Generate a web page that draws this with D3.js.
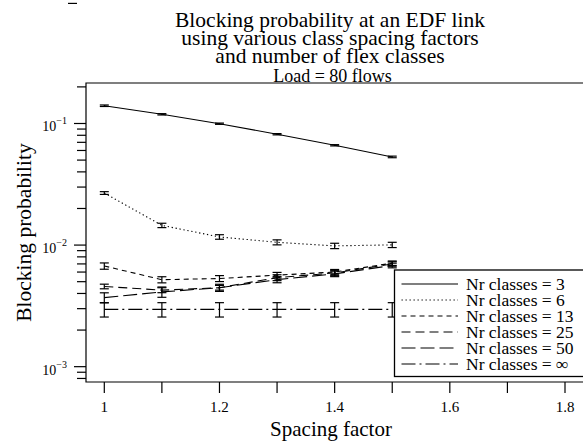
<!DOCTYPE html>
<html><head><meta charset="utf-8">
<script src="https://cdn.jsdelivr.net/npm/d3@7"></script>
<style>body{margin:0;background:#fff}svg{display:block}</style>
</head><body><svg id="c" width="583" height="441"></svg>
<script>
const spacing = [1, 1.1, 1.2, 1.3, 1.4, 1.5];
const labels = ["Nr classes = 3","Nr classes = 6","Nr classes = 13","Nr classes = 25","Nr classes = 50","Nr classes = \u221e"];
const v3   = [0.140, 0.119, 0.0996, 0.0816, 0.0662, 0.0531];
const e3   = [0.0020, 0.0015, 0.0012, 0.0010, 0.0008, 0.0008];
const v6   = [0.0268, 0.01452, 0.01167, 0.01054, 0.00985, 0.01004];
const e6   = [0.0007, 0.0006, 0.0005, 0.0005, 0.0005, 0.0005];
const v13  = [0.00673, 0.00519, 0.00531, 0.00566, 0.0060, 0.0071];
const e13  = [0.0004, 0.0003, 0.0003, 0.0003, 0.0003, 0.0003];
const v25  = [0.00457, 0.00426, 0.00446, 0.0054, 0.0059, 0.0070];
const e25  = [0.0002, 0.0002, 0.0002, 0.0003, 0.0003, 0.0003];
const v50  = [0.00370, 0.00412, 0.00446, 0.0052, 0.0058, 0.0068];
const e50  = [0.00035, 0.0004, 0.0003, 0.0003, 0.0003, 0.0003];
const vInf = [0.00296, 0.00296, 0.00296, 0.00296, 0.00296, 0.00296];
const eInf = [0.0004, 0.0004, 0.0004, 0.0004, 0.0004, 0.0004];
const xTicks = [1, 1.1, 1.2, 1.3, 1.4, 1.5, 1.6, 1.7, 1.8];
const xTickLabels = ["1", "", "1.2", "", "1.4", "", "1.6", "", "1.8"];
const yMajor = [1e-3, 1e-2, 1e-1];
const yMajorExp = ["\u22123", "\u22122", "\u22121"];
const titleLines = ["Blocking probability at an EDF link", "using various class spacing factors", "and number of flex classes"];
const subTitle = "Load = 80 flows";

const series = [
  {v: v3, e: e3, dash: null},
  {v: v6, e: e6, dash: "1.3,2.7"},
  {v: v13, e: e13, dash: "5,4"},
  {v: v25, e: e25, dash: "9,5"},
  {v: v50, e: e50, dash: "14,5"},
  {v: vInf, e: eInf, dash: "14,4,2,4"}
];

const FONT = "'Liberation Serif', 'Times New Roman', Times, 'DejaVu Serif', serif";
const L = 86, T = 83, R = 583, B = 382;
const svg = d3.select("#c").attr("font-family", FONT);
const x = d3.scaleLinear().domain([1, 1.8]).range([104.3, 565]);
const y = d3.scaleLog().domain([7.48e-4, 0.2153]).range([B, T]);

// frame
svg.append("path").attr("d", `M${R+5},${T}H${L}V${B}H${R+5}`).attr("fill","none").attr("stroke","#000").attr("stroke-width",1.2);

// x axis
const xg = svg.append("g");
xTicks.forEach((t,i)=>{
  xg.append("line").attr("x1",x(t)).attr("x2",x(t)).attr("y1",B).attr("y2",B+11).attr("stroke","#000").attr("stroke-width",1.2);
  if (xTickLabels[i]) xg.append("text").attr("x",x(t)).attr("y",411.5).attr("text-anchor","middle").attr("font-size",15).text(xTickLabels[i]);
});

// y axis ticks
const yg = svg.append("g");
const ylo = y.domain()[0], yhi = y.domain()[1];
for (let d = -4; d <= -1; d++) {
  for (let m = 1; m <= 9; m++) {
    const val = m * Math.pow(10, d);
    if (val < ylo || val > yhi) continue;
    const len = m === 1 ? 12 : 9;
    yg.append("line").attr("x1",L-len).attr("x2",L).attr("y1",y(val)).attr("y2",y(val)).attr("stroke","#000").attr("stroke-width",1.2);
  }
}
// stray tick at 10^0 (drawn above the plot in the original)
yg.append("line").attr("x1",L-18).attr("x2",L-9).attr("y1",y(1)+1.5).attr("y2",y(1)+1.5).attr("stroke","#000").attr("stroke-width",1.2);
yMajor.forEach((t,i)=>{
  const tx = yg.append("text").attr("x",67).attr("y",y(t)+8).attr("text-anchor","end").attr("font-size",14);
  tx.append("tspan").text("10");
  tx.append("tspan").attr("dy",-7).attr("font-size",10).text(yMajorExp[i]);
});

// lines
const line = d3.line().x((d,i)=>x(spacing[i])).y(d=>y(d));
series.forEach(s=>{
  svg.append("path").attr("d", line(s.v)).attr("fill","none").attr("stroke","#000")
    .attr("stroke-width", 1.1).attr("stroke-dasharray", s.dash);
});
// error bars
series.forEach(s=>{
  s.v.forEach((v,i)=>{
    const cx = x(spacing[i]), y1 = y(v - s.e[i]), y2 = y(v + s.e[i]);
    const g = svg.append("g").attr("stroke","#000").attr("stroke-width",1.2);
    g.append("line").attr("x1",cx).attr("x2",cx).attr("y1",y1).attr("y2",y2);
    g.append("line").attr("x1",cx-4.5).attr("x2",cx+4.5).attr("y1",y1).attr("y2",y1);
    g.append("line").attr("x1",cx-4.5).attr("x2",cx+4.5).attr("y1",y2).attr("y2",y2);
  });
});

// legend
const lg = svg.append("g");
lg.append("rect").attr("x",394.5).attr("y",270).attr("width",200).attr("height",106.5)
  .attr("fill","#fff").attr("stroke","#000").attr("stroke-width",1.3);
labels.forEach((lab,i)=>{
  const ry = 284 + i*16;
  lg.append("line").attr("x1",401.5).attr("x2",458).attr("y1",ry).attr("y2",ry)
    .attr("stroke","#000").attr("stroke-width",1.1).attr("stroke-dasharray",series[i].dash);
  lg.append("text").attr("x",466).attr("y",ry+5.5).attr("font-size",17.5).text(lab);
});

// titles
titleLines.forEach((t,i)=>{
  svg.append("text").attr("x",330).attr("y",26.7 + i*18).attr("text-anchor","middle").attr("font-size",21.5).text(t);
});
svg.append("text").attr("x",332.5).attr("y",81.7).attr("text-anchor","middle").attr("font-size",18).text(subTitle);
svg.append("text").attr("x",331).attr("y",435.5).attr("text-anchor","middle").attr("font-size",21).text("Spacing factor");
svg.append("text").attr("transform","translate(31,232.5) rotate(-90)").attr("text-anchor","middle").attr("font-size",21.5).text("Blocking probability");
</script></body></html>
